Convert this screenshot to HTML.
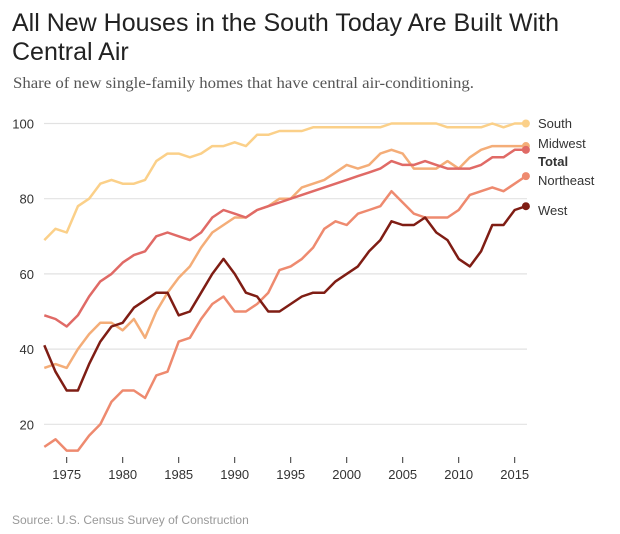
<!DOCTYPE html>
<html><head><meta charset="utf-8"><style>
body{margin:0;background:#fff;width:620px;height:534px;overflow:hidden;font-family:"Liberation Sans",sans-serif}
</style></head><body>
<svg id="c" width="620" height="534" xmlns="http://www.w3.org/2000/svg" style="position:absolute;left:0;top:0">
<text x="12" y="31" font-size="25" fill="#222" font-family="Liberation Sans">All New Houses in the South Today Are Built With</text>
<text x="12" y="60" font-size="25" fill="#222" font-family="Liberation Sans">Central Air</text>
<text x="13" y="88" font-size="16" fill="#555" font-family="Liberation Serif" textLength="461" lengthAdjust="spacingAndGlyphs">Share of new single-family homes that have central air-conditioning.</text>
<text x="12" y="524" font-size="12" fill="#999">Source: U.S. Census Survey of Construction</text>
<g id="g"></g>
</svg>
<script>
var g=document.getElementById('g'),NS='http://www.w3.org/2000/svg';
function Y(v){return 123.5+(100-v)*3.76}
function X(y){return 66.7+(y-1975)*11.2}
function el(t,a,txt){var e=document.createElementNS(NS,t);for(var k in a)e.setAttribute(k,a[k]);if(txt)e.textContent=txt;g.appendChild(e);return e}
[100,80,60,40,20].forEach(function(v){el('line',{x1:44,x2:527,y1:Y(v),y2:Y(v),stroke:'#e2e2e2','stroke-width':1.2});el('text',{x:34,y:Y(v)+5,'text-anchor':'end','font-size':13,fill:'#333'},v)});
for(var yr=1975;yr<=2015;yr+=5){el('line',{x1:X(yr),x2:X(yr),y1:457,y2:463,stroke:'#333','stroke-width':1});el('text',{x:X(yr),y:479,'text-anchor':'middle','font-size':13,fill:'#333'},yr)}
var tot=[49,48,46,49,54,58,60,63,65,66,70,71,70,69,71,75,77,76,75,77,78,79];
for(var i=1;i<=9;i++)tot.push(79+i);tot.push(90,89,89,90,89,88,88,88,89,91,91,93,93);
var S=[
['#fbd089',[69,72,71,78,80,84,85,84,84,85,90,92,92,91,92,94,94,95,94,97,97,98,98,98,99,99,99,99,99,99,99,100,100,100,100,100,99,99,99,99,100,99,100,100],'South',0],
['#f4ad78',[35,36,35,40,44,47,47,45,48,43,50,55,59,62,67,71,73,75,75,77,78,80,80,83,84,85,87,89,88,89,92,93,92,88,88,88,90,88,91,93,94,94,94,94],'Midwest',0],
['#ee8a6f',[14,16,13,13,17,20,26,29,29,27,33,34,42,43,48,52,54,50,50,52,55,61,62,64,67,72,74,73,76,77,78,82,79,76,75,75,75,77,81,82,83,82,84,86],'Northeast',0],
['#e06a66',tot,'Total',1],
['#7f1d14',[41,34,29,29,36,42,46,47,51,53,55,55,49,50,55,60,64,60,55,54,50,50,52,54,55,55,58,60,62,66,69,74,73,73,75,71,69,64,62,66,73,73,77,78],'West',0]];
var ly={South:128,Midwest:148,Total:166,Northeast:185,West:215};
S.forEach(function(s){var p=s[1].map(function(v,i){return X(1973+i).toFixed(1)+','+Y(v).toFixed(1)}).join(' ');
el('polyline',{points:p,fill:'none',stroke:s[0],'stroke-width':2.5,'stroke-linejoin':'round'});
var last=s[1][s[1].length-1];el('circle',{cx:X(2016),cy:Y(last),r:4,fill:s[0]});
el('text',{x:538,y:ly[s[2]],'font-size':13,fill:'#333','font-weight':s[3]?'bold':'normal'},s[2]);});
</script>
</body></html>
